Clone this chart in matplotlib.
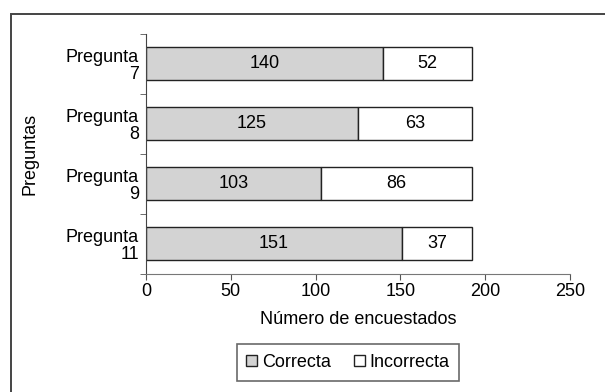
import numpy as np
import matplotlib.pyplot as plt
from matplotlib.patches import Rectangle, Patch

plt.rcParams['font.family'] = ['Liberation Sans Narrow', 'Liberation Sans', 'DejaVu Sans']

preguntas = ["Pregunta\n7", "Pregunta\n8", "Pregunta\n9", "Pregunta\n11"]
correcta = [140, 125, 103, 151]
incorrecta = [52, 63, 86, 37]
# in the picture every bar ends at about 192
total_barra = [192, 192, 192, 192]

fig = plt.figure(figsize=(6.05, 3.92), dpi=100)
fig.patches.append(Rectangle((11 / 605, -0.05), 1.1, 1.05 - 13.5 / 392, transform=fig.transFigure,
                             fill=False, edgecolor='#444444', linewidth=1.4))
ax = fig.add_axes([146 / 605, 1 - 273.5 / 392, 424 / 605, 240 / 392])

y = np.arange(len(preguntas))[::-1]
resto = [t - c for t, c in zip(total_barra, correcta)]
ax.barh(y, correcta, height=0.55, color='#d3d3d3', edgecolor='#222222', linewidth=1)
ax.barh(y, resto, left=correcta, height=0.55, color='white', edgecolor='#222222', linewidth=1)

for i in range(len(preguntas)):
    ax.text(correcta[i] / 2, y[i], str(correcta[i]), ha='center', va='center', fontsize=13)
    ax.text(correcta[i] + resto[i] / 2, y[i], str(incorrecta[i]), ha='center', va='center', fontsize=13)

ax.set_xlim(0, 250)
ax.set_ylim(-0.5, 3.5)
ax.set_xticks([0, 50, 100, 150, 200, 250])
ax.tick_params(axis='x', labelsize=13, length=4, color='#555555', pad=3)
ax.set_yticks(y)
ax.set_yticklabels(preguntas, fontsize=13, linespacing=1.05)
ax.tick_params(axis='y', length=0, pad=5)
ax.set_yticks(np.arange(-0.5, 4, 1), minor=True)
ax.tick_params(axis='y', which='minor', length=4, color='#555555')
for s in ['top', 'right']:
    ax.spines[s].set_visible(False)
ax.spines['left'].set_color('#444444')
ax.spines['bottom'].set_color('#777777')
ax.set_xlabel("Número de encuestados", fontsize=13, labelpad=8)
ax.set_ylabel("Preguntas", fontsize=13, labelpad=20)

handles = [Patch(facecolor='#d3d3d3', edgecolor='#222222'), Patch(facecolor='white', edgecolor='#222222')]
leg = fig.legend(handles, ["Correcta", "Incorrecta"], loc='center', bbox_to_anchor=(348 / 605, 1 - 362.5 / 392),
                 ncol=2, fontsize=13, frameon=True, fancybox=False, edgecolor='#444444',
                 handlelength=0.6, handleheight=0.6, handletextpad=0.25, columnspacing=1.3,
                 borderpad=0.55, borderaxespad=0)
leg.get_frame().set_linewidth(1.2)

fig.savefig("out.png", dpi=100)
